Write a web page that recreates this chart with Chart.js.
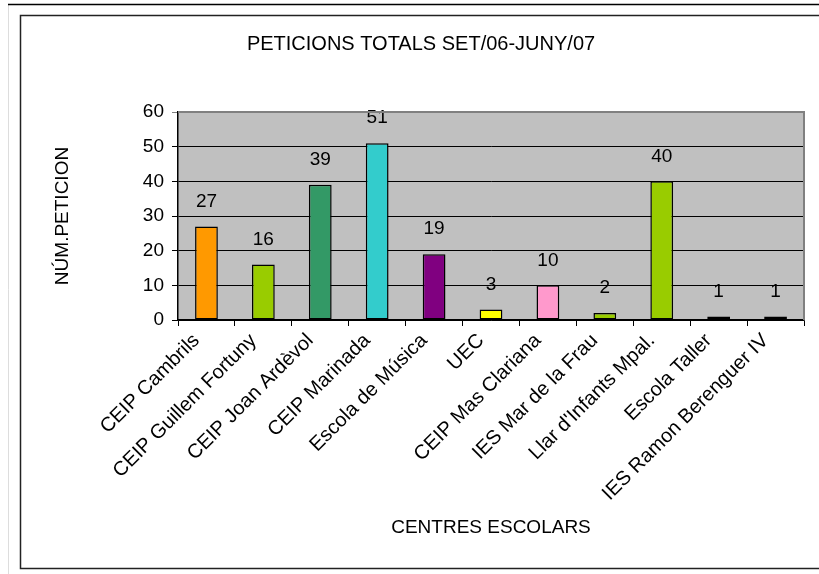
<!DOCTYPE html>
<html>
<head>
<meta charset="utf-8">
<script src="https://cdn.jsdelivr.net/npm/chart.js@4/dist/chart.umd.min.js"></script>
<style>
  html, body { margin: 0; padding: 0; background: #fff; }
  canvas { display: block; }
</style>
</head>
<body>
<canvas id="peticionsChart" width="819" height="574"></canvas>
<script>
const chartTitle = 'PETICIONS TOTALS SET/06-JUNY/07';
const yTitle = 'NÚM.PETICION';
const xTitle = 'CENTRES ESCOLARS';
const centres = ['CEIP Cambrils', 'CEIP Guillem Fortuny', 'CEIP Joan Ardèvol', 'CEIP Marinada',
  'Escola de Música', 'UEC', 'CEIP Mas Clariana', 'IES Mar de la Frau',
  "Llar d'Infants Mpal.", 'Escola Taller', 'IES Ramon Berenguer IV'];
const peticions = [27, 16, 39, 51, 19, 3, 10, 2, 40, 1, 1];
const barColors = ['#FF9900', '#99CC00', '#339966', '#33CCCC', '#800080', '#FFFF00',
  '#FF99CC', '#99CC00', '#99CC00', '#99CC00', '#99CC00'];

const FONT = '"Liberation Sans", Arial, sans-serif';

// frame, plot background and chart title
const decorPlugin = {
  id: 'decor',
  beforeDraw(chart) {
    const { ctx, chartArea: a } = chart;
    ctx.save();
    ctx.fillStyle = '#fff';
    ctx.fillRect(0, 0, chart.width, chart.height);
    ctx.strokeStyle = '#ddd';
    ctx.lineWidth = 1;
    ctx.beginPath();
    ctx.moveTo(8.5, 5); ctx.lineTo(8.5, chart.height);
    ctx.stroke();
    ctx.strokeStyle = '#000';
    ctx.lineWidth = 1.5;
    ctx.beginPath();
    ctx.moveTo(8, 4.5); ctx.lineTo(chart.width, 4.5);
    ctx.stroke();
    ctx.strokeStyle = '#222';
    ctx.beginPath();
    ctx.moveTo(chart.width, 15.5);
    ctx.lineTo(20.5, 15.5);
    ctx.lineTo(20.5, 568.5);
    ctx.lineTo(chart.width, 568.5);
    ctx.stroke();
    ctx.fillStyle = '#C0C0C0';
    ctx.fillRect(a.left, a.top, a.right - a.left, a.bottom - a.top);
    ctx.fillStyle = '#000';
    ctx.font = '20px ' + FONT;
    ctx.textAlign = 'center';
    ctx.textBaseline = 'middle';
    ctx.fillText(chartTitle, 421, 44);
    ctx.restore();
  },
  afterDraw(chart) {
    const { ctx, chartArea: a } = chart;
    ctx.save();
    ctx.strokeStyle = '#808080';
    ctx.lineWidth = 2;
    ctx.beginPath();
    ctx.moveTo(a.left, a.top);
    ctx.lineTo(a.right, a.top);
    ctx.lineTo(a.right, a.bottom);
    ctx.stroke();
    ctx.restore();
  }
};

// value above each bar
const valueLabels = {
  id: 'valueLabels',
  afterDatasetsDraw(chart) {
    const { ctx } = chart;
    ctx.save();
    ctx.fillStyle = '#000';
    ctx.font = '19px ' + FONT;
    ctx.textAlign = 'center';
    ctx.textBaseline = 'middle';
    chart.getDatasetMeta(0).data.forEach((bar, i) => {
      ctx.fillText(String(peticions[i]), bar.x, bar.y - 25);
    });
    ctx.restore();
  }
};

new Chart(document.getElementById('peticionsChart'), {
  type: 'bar',
  data: {
    labels: centres,
    datasets: [{
      data: peticions,
      backgroundColor: barColors,
      borderColor: '#000',
      borderWidth: 1.5,
      borderSkipped: false,
      categoryPercentage: 1,
      barPercentage: 0.4
    }]
  },
  options: {
    responsive: false,
    animation: false,
    layout: { padding: { left: 20, right: 15, top: 112, bottom: 0 } },
    plugins: {
      legend: { display: false },
      tooltip: { enabled: false }
    },
    scales: {
      x: {
        afterFit(scale) { scale.height = 254; },
        grid: {
          offset: true,
          drawOnChartArea: false,
          drawTicks: true,
          tickLength: 6,
          color: '#000'
        },
        border: { color: '#000', width: 1.5 },
        ticks: {
          autoSkip: false,
          minRotation: 45,
          maxRotation: 45,
          labelOffset: -10,
          color: '#000',
          font: { family: FONT, size: 20 }
        },
        title: {
          display: true,
          text: xTitle,
          color: '#000',
          font: { family: FONT, size: 19 },
          padding: { top: 35, bottom: 35 }
        }
      },
      y: {
        min: 0,
        max: 60,
        afterFit(scale) { scale.width = 158; },
        grid: {
          color: ctx => (ctx.tick && ctx.tick.value === 60) ? '#808080' : '#000',
          lineWidth: 1,
          tickLength: 6
        },
        border: { color: '#000', width: 1.5 },
        ticks: {
          stepSize: 10,
          padding: 8,
          color: '#000',
          font: { family: FONT, size: 19 }
        },
        title: {
          display: true,
          text: yTitle,
          color: '#000',
          font: { family: FONT, size: 19 },
          padding: { top: 31, bottom: 0 }
        }
      }
    }
  },
  plugins: [decorPlugin, valueLabels]
});
</script>
</body>
</html>
